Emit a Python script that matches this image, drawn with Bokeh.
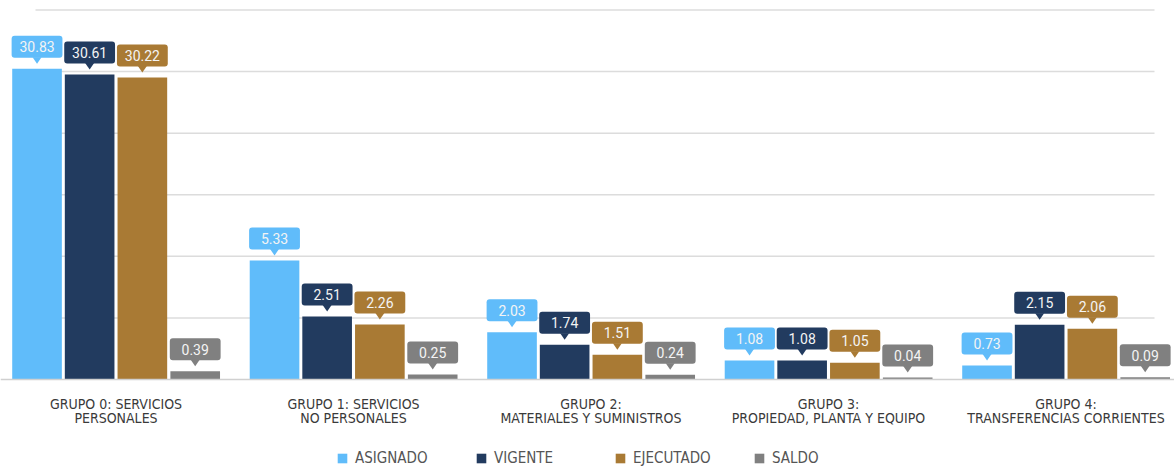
from bokeh.plotting import figure
from bokeh.models import ColumnDataSource, Range1d, Span, Legend, LegendItem
from bokeh.models.glyphs import VBar
from bokeh.core.properties import value
from bokeh.embed import file_html
from bokeh.resources import INLINE

# ---------------- data ----------------
groups = [
    "GRUPO 0: SERVICIOS\nPERSONALES",
    "GRUPO 1: SERVICIOS\nNO PERSONALES",
    "GRUPO 2:\nMATERIALES Y SUMINISTROS",
    "GRUPO 3:\nPROPIEDAD, PLANTA Y EQUIPO",
    "GRUPO 4:\nTRANSFERENCIAS CORRIENTES",
]
series = ["ASIGNADO", "VIGENTE", "EJECUTADO", "SALDO"]

# values printed in the callouts
asignado = [30.83, 5.33, 2.03, 1.08, 0.73]
vigente = [30.61, 2.51, 1.74, 1.08, 2.15]
ejecutado = [30.22, 2.26, 1.51, 1.05, 2.06]
saldo = [0.39, 0.25, 0.24, 0.04, 0.09]

# bar heights as drawn in the source graphic, read against its gridlines
# (one grid step = 6); the source is not drawn to the scale of its labels
asignado_bar = [30.27, 11.59, 4.61, 1.85, 1.36]
vigente_bar = [29.72, 6.14, 3.38, 1.85, 5.33]
ejecutado_bar = [29.42, 5.36, 2.41, 1.63, 4.94]
saldo_bar = [0.81, 0.49, 0.46, 0.19, 0.22]

grid_ticks = [6, 12, 18, 24, 30, 36]

# ---------------- style / layout ----------------
colors = ["#60BCFA", "#223B5F", "#A97A34", "#808080"]
offsets = [-0.3325, -0.111, 0.111, 0.3335]
bar_w = 0.209

W, H = 1174, 468
PX_X = 237.5            # pixels per category
PX_Y = 369.5 / 36       # pixels per value unit
x_start = -115.5 / PX_X
x_end = x_start + W / PX_X
y_end = 379 / PX_Y
y_start = y_end - H / PX_Y

LABEL_FONT = "'Liberation Sans Narrow', 'DejaVu Sans Condensed', Roboto, sans-serif"
NUM_FONT = "Roboto"

p = figure(width=W, height=H, output_backend="svg", toolbar_location=None,
           x_axis_type=None, y_axis_type=None,
           x_range=Range1d(x_start, x_end), y_range=Range1d(y_start, y_end),
           min_border=0, outline_line_color=None,
           background_fill_color="white", border_fill_color="white")

# horizontal gridlines (limited extent as in the source)
gx0 = x_start + 35 / PX_X
gx1 = x_start + 1154 / PX_X
p.segment(x0=[gx0] * len(grid_ticks), x1=[gx1] * len(grid_ticks),
          y0=grid_ticks, y1=grid_ticks, line_color="#DCDCDC", line_width=1.5,
          level="underlay")
p.add_layout(Span(location=0, dimension="width", line_color="#D0D0D0", line_width=1.5))

values = [asignado, vigente, ejecutado, saldo]
heights = [asignado_bar, vigente_bar, ejecutado_bar, saldo_bar]
has_radius = "border_radius" in VBar.properties()

legend_items = []
for j, name in enumerate(series):
    xs = [i + offsets[j] for i in range(len(groups))]
    src = ColumnDataSource(dict(
        x=xs,
        top=heights[j],
        val=[f"{v:.2f}" for v in values[j]],
        box_bottom=[h + 11 / PX_Y for h in heights[j]],
        box_top=[h + 33 / PX_Y for h in heights[j]],
        text_y=[h + 22 / PX_Y for h in heights[j]],
    ))
    r = p.vbar(x="x", top="top", bottom=0, width=bar_w, source=src,
               fill_color=colors[j], line_color=None)
    legend_items.append(LegendItem(label=name, renderers=[r]))

    kw = dict(border_radius=3) if has_radius else {}
    p.vbar(x="x", bottom="box_bottom", top="box_top", width=bar_w + 0.005, source=src,
           fill_color=colors[j], line_color=None, **kw)
    tri_x = [[x - 4.5 / PX_X, x + 4.5 / PX_X, x] for x in xs]
    tri_y = [[h + 11.5 / PX_Y, h + 11.5 / PX_Y, h + 5 / PX_Y] for h in heights[j]]
    p.patches(tri_x, tri_y, fill_color=colors[j], line_color=None)
    p.text(x="x", y="text_y", text="val", source=src,
           text_align="center", text_baseline="middle",
           text_color="#F4F4F4", text_font=value(NUM_FONT), text_font_size="14px")

# category labels
p.text(x=list(range(len(groups))), y=[-16 / PX_Y] * len(groups), text=groups,
       text_align="center", text_baseline="top", text_line_height=0.9,
       text_color="#3A3A3A", text_font=value(LABEL_FONT), text_font_size="14px")

legend = Legend(items=legend_items, orientation="horizontal", location=(336, 1),
                glyph_width=12, glyph_height=12, label_standoff=7, spacing=20,
                label_width=100, padding=0, margin=0,
                border_line_color=None, background_fill_alpha=0,
                label_text_font=LABEL_FONT, label_text_font_size="15px",
                label_text_color="#555555")
p.add_layout(legend)

open("out.html", "w").write(file_html(p, INLINE))
